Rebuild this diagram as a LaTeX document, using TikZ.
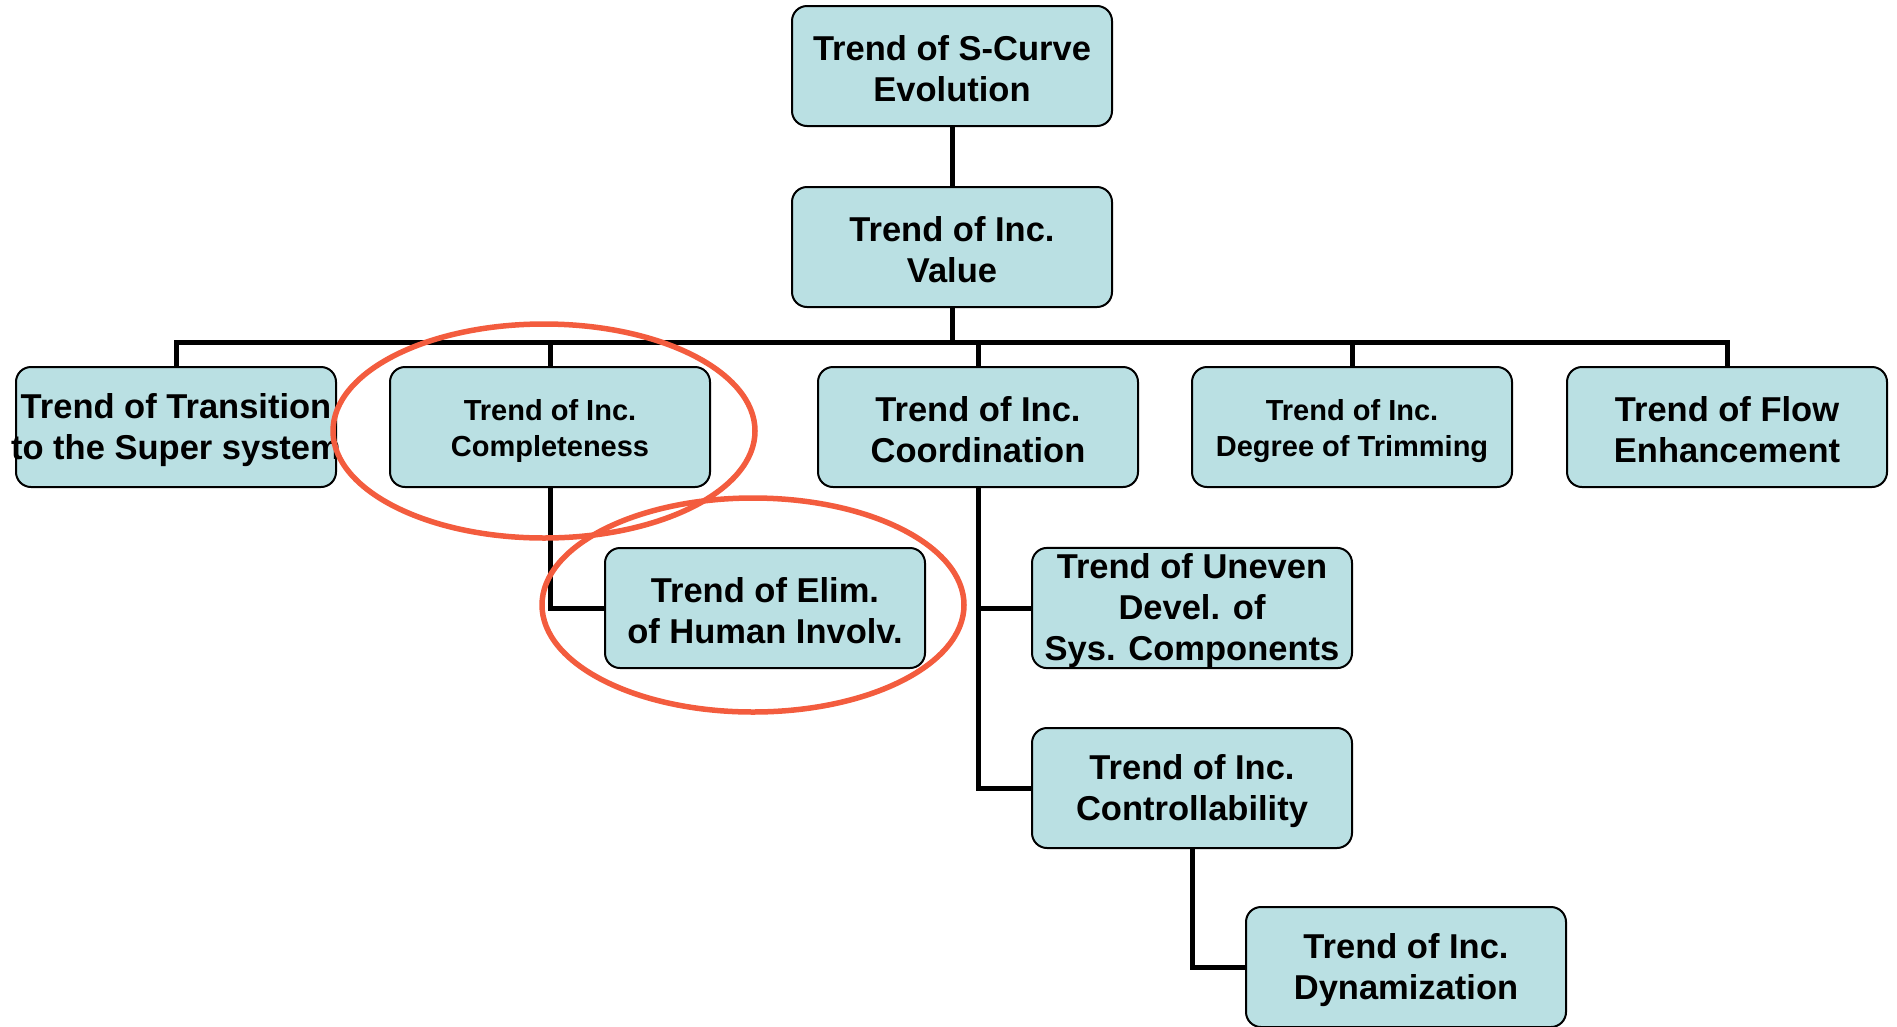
\documentclass[tikz,border=0pt]{standalone}
\usepackage{fontspec}
\setmainfont{Liberation Sans}
\definecolor{boxfill}{RGB}{186,224,227}
\definecolor{ringred}{RGB}{243,92,62}
\newcommand{\bigstrutx}{\rule{0pt}{31pt}}
\newcommand{\smallstrutx}{\rule{0pt}{29pt}}
\begin{document}
\begin{tikzpicture}[x=1pt,y=-1pt,
  tbox/.style={draw=black, line width=2pt, fill=boxfill, rounded corners=15pt,
    minimum width=320pt, minimum height=120pt, inner sep=0pt, align=center,
    font=\bfseries\fontsize{34.5}{41}\selectfont},
  tboxsmall/.style={tbox, font=\bfseries\fontsize{29}{36}\selectfont},
  conn/.style={draw=black, line width=5pt, line join=miter},
  ring/.style={draw=ringred, line width=5.5pt}]
\useasboundingbox (0,0) rectangle (1897,1026);

\node[tbox] (top) at (952,66) {\bigstrutx Trend of S-Curve\\Evolution};
\node[tbox] (val) at (952,247) {\bigstrutx Trend of Inc.\\Value};

\node[tbox] (trans) at (176,427) {\bigstrutx\makebox[300pt]{Trend of Transition}\\\makebox[300pt]{to the Super system}};
\node[tboxsmall] (compl) at (550,427) {\smallstrutx Trend of Inc.\\Completeness};
\node[tbox] (coord) at (978,427) {\bigstrutx Trend of Inc.\\Coordination};
\node[tboxsmall] (trim) at (1352,427) {\smallstrutx Trend of Inc.\\Degree of Trimming};
\node[tbox] (flow) at (1727,427) {\bigstrutx Trend of Flow\\Enhancement};

\node[tbox] (elim) at (765,608) {\bigstrutx Trend of Elim.\\of Human Involv.};
\node[tbox] (uneven) at (1192,608) {\bigstrutx Trend of Uneven\\Devel. of\\Sys. Components};
\node[tbox] (ctrl) at (1192,788) {\bigstrutx Trend of Inc.\\Controllability};
\node[tbox] (dyn) at (1406,967) {\bigstrutx Trend of Inc.\\Dynamization};

\coordinate (bar) at (952,342);

\draw[conn] (top) -- (val);
\draw[conn] (val.south) -- (bar);
\draw[conn] (trans.north) -- (trans.north |- bar) -- (flow.north |- bar) -- (flow.north);
\draw[conn] (compl.north) -- (compl.north |- bar);
\draw[conn] (coord.north) -- (coord.north |- bar);
\draw[conn] (trim.north) -- (trim.north |- bar);

\draw[conn] (compl.south) |- (elim.west);
\draw[conn] (coord.south) |- (uneven.west);
\draw[conn] (coord.south) |- (ctrl.west);
\draw[conn] (ctrl.south) |- (dyn.west);

\draw[ring] (544,431) ellipse [x radius=211, y radius=107];
\draw[ring] (753,605) ellipse [x radius=211, y radius=107];
\end{tikzpicture}
\end{document}
